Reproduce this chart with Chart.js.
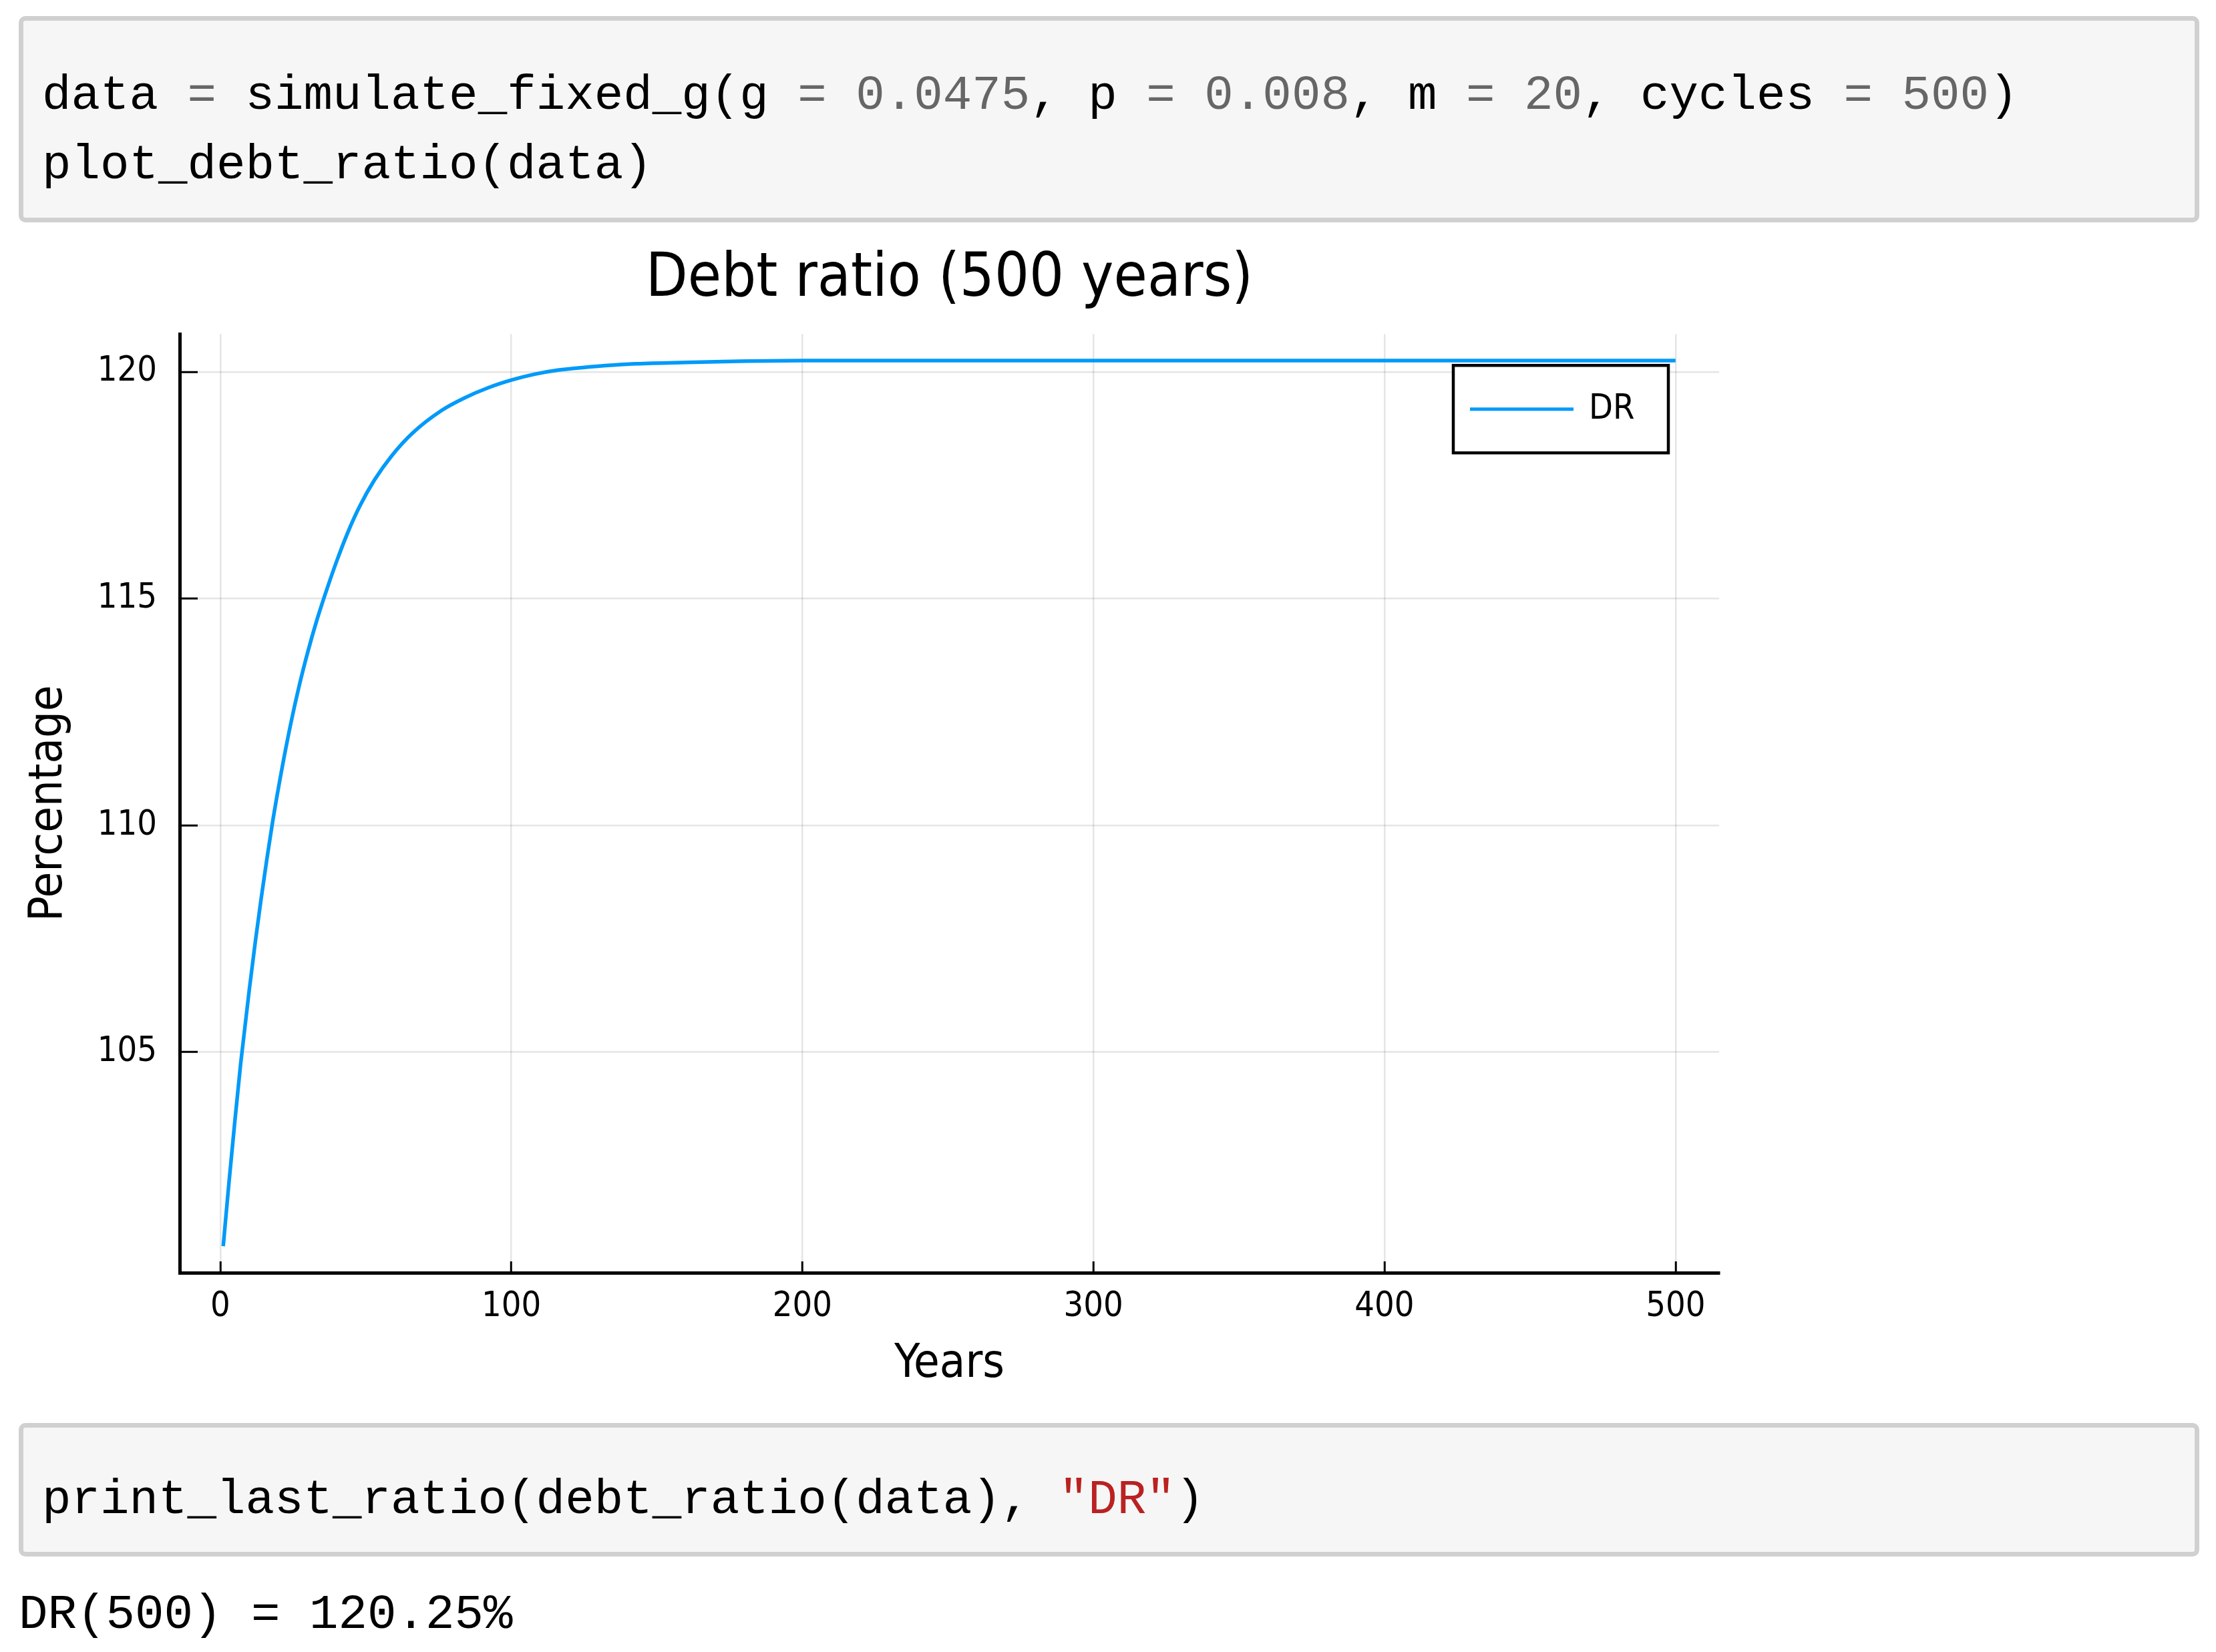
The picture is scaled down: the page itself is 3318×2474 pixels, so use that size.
<!DOCTYPE html>
<html>
<head>
<meta charset="utf-8">
<script src="https://cdn.jsdelivr.net/npm/chart.js@4.4.1/dist/chart.umd.min.js"></script>
<style>
  body {
    margin: 0;
    background: #fff;
    width: 3318px;
    height: 2474px;
    position: relative;
    overflow: hidden;
  }
  .cell {
    position: absolute;
    left: 28px;
    width: 3265px;
    box-sizing: border-box;
    border: 7px solid #d0d0d0;
    border-radius: 10px;
    background: #f6f6f6;
  }
  pre {
    position: absolute;
    margin: 0;
    font-family: "Liberation Mono", monospace;
    font-size: 72.5px;
    line-height: 104px;
    color: #000;
  }
  .n { color: #666666; }
  .s { color: #ba2121; }
  #debtChart {
    position: absolute;
    left: 0;
    top: 340px;
  }
</style>
</head>
<body>
<div class="cell" style="top:24px;height:309px"></div>
<pre style="left:63px;top:92px">data <span class="n">=</span> simulate_fixed_g(g <span class="n">=</span> <span class="n">0.0475</span>, p <span class="n">=</span> <span class="n">0.008</span>, m <span class="n">=</span> <span class="n">20</span>, cycles <span class="n">=</span> <span class="n">500</span>)
plot_debt_ratio(data)</pre>

<canvas id="debtChart" width="2700" height="1760"></canvas>

<div class="cell" style="top:2131px;height:200px"></div>
<pre style="left:63px;top:2195px">print_last_ratio(debt_ratio(data), <span class="s">"DR"</span>)</pre>
<pre style="left:28px;top:2367px">DR(500) = 120.25%</pre>

<script>
// values
const YEARS = [1, 3, 5, 7, 10, 12, 14, 16, 18, 21, 24, 27, 30, 33, 36, 40, 44, 48,
  53, 59, 66, 76, 84, 92, 100, 108, 116, 125, 135, 143, 160, 178, 200, 300, 400, 500];
const DEBT_RATIO = [100.72, 102.14, 103.48, 104.75, 106.4, 107.42, 108.37, 109.26,
  110.09, 111.19, 112.18, 113.05, 113.81, 114.49, 115.09, 115.83, 116.49, 117.05,
  117.62, 118.16, 118.65, 119.15, 119.43, 119.65, 119.82, 119.95, 120.04, 120.1,
  120.15, 120.18, 120.21, 120.235, 120.25, 120.25, 120.25, 120.25];
const X_TICKS = [0, 100, 200, 300, 400, 500];
const Y_TICKS = [105, 110, 115, 120];
const SERIES_LABEL = "DR";

const LINE_COLOUR = "#009af9";
const GRID_COLOUR = "rgba(0,0,0,0.1)";
const FONT_FAMILY = "'DejaVu Sans Condensed', 'DejaVu Sans', sans-serif";

// Plots.jl style: pad the data range by 3% on each side
function paddedRange(values) {
  const lo = Math.min(...values);
  const hi = Math.max(...values);
  const pad = (hi - lo) * 0.03;
  return [lo - pad, hi + pad];
}
const [xMin, xMax] = paddedRange(YEARS);
const [yMin, yMax] = paddedRange(DEBT_RATIO);

// legend box sitting inside the top right corner of the plot
const insideLegend = {
  id: "insideLegend",
  afterDraw(chart) {
    const { ctx, chartArea } = chart;
    const ds = chart.data.datasets[0];
    const w = 322, h = 131;
    const left = chartArea.right - 76 - w;
    const top = chartArea.top + 47;
    ctx.save();
    ctx.fillStyle = "#fff";
    ctx.fillRect(left, top, w, h);
    ctx.lineWidth = 4.5;
    ctx.strokeStyle = "#000";
    ctx.strokeRect(left, top, w, h);
    const midY = top + h / 2;
    ctx.beginPath();
    ctx.moveTo(left + 25, midY);
    ctx.lineTo(left + 180, midY);
    ctx.lineWidth = 5;
    ctx.strokeStyle = ds.borderColor;
    ctx.stroke();
    ctx.fillStyle = "#000";
    ctx.font = "52px " + FONT_FAMILY;
    ctx.textAlign = "left";
    ctx.textBaseline = "middle";
    ctx.fillText(ds.label, left + 203, midY + 1);
    ctx.restore();
  },
};

new Chart(document.getElementById("debtChart"), {
  type: "line",
  data: {
    datasets: [
      {
        label: SERIES_LABEL,
        data: YEARS.map((year, i) => ({ x: year, y: DEBT_RATIO[i] })),
        borderColor: LINE_COLOUR,
        borderWidth: 5.5,
        pointRadius: 0,
        cubicInterpolationMode: "monotone",
      },
    ],
  },
  options: {
    responsive: false,
    animation: false,
    events: [],
    layout: { padding: { left: 0, right: 126, top: 0, bottom: 0 } },
    plugins: {
      legend: { display: false },
      tooltip: { enabled: false },
      title: {
        display: true,
        text: "Debt ratio (500 years)",
        color: "#000",
        fullSize: false,
        font: { family: FONT_FAMILY, size: 91, weight: "normal", lineHeight: 1.2 },
        padding: { top: 25, bottom: 26 },
      },
    },
    scales: {
      x: {
        type: "linear",
        min: xMin,
        max: xMax,
        afterBuildTicks: (scale) => {
          scale.ticks = X_TICKS.map((v) => ({ value: v }));
        },
        afterFit: (scale) => {
          scale.height = 194;
        },
        grid: {
          color: GRID_COLOUR,
          lineWidth: 2.5,
          tickColor: "#000",
          tickWidth: 3,
          tickLength: -17,
        },
        border: { color: "#000", width: 5 },
        ticks: {
          color: "#000",
          padding: 37,
          maxRotation: 0,
          font: { family: FONT_FAMILY, size: 52, lineHeight: 1.2 },
        },
        title: {
          display: true,
          text: "Years",
          color: "#000",
          font: { family: FONT_FAMILY, size: 70, lineHeight: 1.2 },
          padding: { top: 0, bottom: 14 },
        },
      },
      y: {
        type: "linear",
        min: yMin,
        max: yMax,
        afterBuildTicks: (scale) => {
          scale.ticks = Y_TICKS.map((v) => ({ value: v }));
        },
        afterFit: (scale) => {
          scale.width = 269;
        },
        grid: {
          color: GRID_COLOUR,
          lineWidth: 2.5,
          tickColor: "#000",
          tickWidth: 3,
          tickLength: -27,
        },
        border: { color: "#000", width: 5 },
        ticks: {
          color: "#000",
          padding: 61,
          font: { family: FONT_FAMILY, size: 52, lineHeight: 1.2 },
        },
        title: {
          display: true,
          text: "Percentage",
          color: "#000",
          font: { family: FONT_FAMILY, size: 70, lineHeight: 1.2 },
          padding: { top: 32, bottom: 0 },
        },
      },
    },
  },
  plugins: [insideLegend],
});
</script>
</body>
</html>
